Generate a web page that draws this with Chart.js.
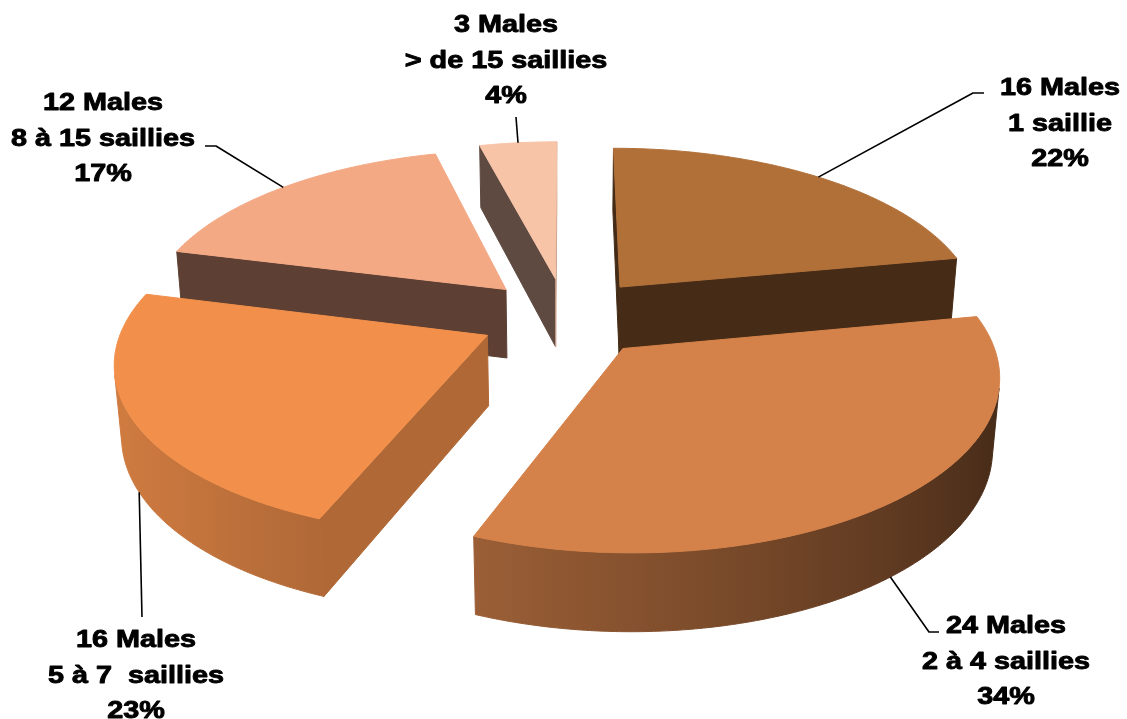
<!DOCTYPE html>
<html lang="fr">
<head>
<meta charset="UTF-8">
<title>Répartition des males selon le nombre de saillies</title>
<script src="https://cdn.jsdelivr.net/npm/chart.js"></script>
<style>
    body { margin: 0; background: #ffffff; }
    #cadre { width: 1127px; height: 719px; position: relative; }
</style>
</head>
<body>
<div id="cadre"><canvas id="graphique"></canvas></div>
<script>
// Données
const classes = ['1 saillie', '2 à 4 saillies', '5 à 7  saillies', '8 à 15 saillies', '> de 15 saillies'];
const males = [16, 24, 16, 12, 3];
const pourcentages = [22, 34, 23, 17, 4];
const couleurs = ['#b27039', '#d5824a', '#f2904b', '#f4a985', '#f7c4a8'];

// Position des étiquettes (centre du texte, première ligne de base) et trajet du trait de rappel
const placeEtiquettes = [
    { x: 1060, y: 95,  trait: [[973, 93], [984, 93]] },
    { x: 1006, y: 633, trait: [[929, 632], [939, 632]] },
    { x: 136,  y: 647, trait: [[142, 617]] },
    { x: 103,  y: 110, trait: [[216, 146], [205, 146]] },
    { x: 506,  y: 32,  trait: [[516, 117]] }
];

// Vue 3D : centre écran, échelle, inclinaison, perspective, épaisseur et éclatement (rayon = 1)
const vue = {
    cx: 566, cy: 317, echelle: 362,
    inclinaison: 27.3 * Math.PI / 180,
    perspective: 0.14,
    epaisseur: 0.22,
    eclatement: 0.24
};
const sinI = Math.sin(vue.inclinaison), cosI = Math.cos(vue.inclinaison);
const distance = cosI / vue.perspective;
const focale = vue.echelle * distance;

function projeter(P) {
    const yc = P.Y * cosI - P.Z * sinI;
    const dc = distance - P.Z * cosI - P.Y * sinI;
    return { x: vue.cx + focale * P.X / dc, y: vue.cy - focale * yc / dc };
}

// face tournée vers la caméra ?
function visible(nx, nz, P) {
    return nx * (0 - P.X) + nz * (distance * cosI - P.Z) > 0;
}

function versRgb(hex) {
    const v = parseInt(hex.slice(1), 16);
    return [(v >> 16) & 255, (v >> 8) & 255, v & 255];
}
function nuance(rgb, f) {
    return 'rgb(' + rgb.map(c => Math.round(Math.min(255, c * f))).join(',') + ')';
}

function chemin(ctx, points) {
    ctx.beginPath();
    points.forEach((p, k) => k ? ctx.lineTo(p.x, p.y) : ctx.moveTo(p.x, p.y));
    ctx.closePath();
}

function dessinerPart(ctx, p, couleur) {
    const h = vue.epaisseur;
    const rgb = versRgb(couleur);
    const pt = (a, r, Y) => ({ X: p.ox + r * Math.cos(a), Y: Y, Z: p.oz + r * Math.sin(a) });
    const n = Math.max(8, Math.ceil((p.a1 - p.a0) / 0.01));
    const angles = [];
    for (let k = 0; k <= n; k++) angles.push(p.a0 + (p.a1 - p.a0) * k / n);

    ctx.lineJoin = 'round';
    ctx.lineWidth = 1;

    // faces de coupe
    [
        { a: p.a0, nx: Math.sin(p.a0), nz: -Math.cos(p.a0) },
        { a: p.a1, nx: -Math.sin(p.a1), nz: Math.cos(p.a1) }
    ].forEach(f => {
        if (!visible(f.nx, f.nz, pt(f.a, 0.5, -h / 2))) return;
        const coul = nuance(rgb, 0.38 + 0.4 * Math.pow(Math.max(0, f.nx), 2));
        chemin(ctx, [pt(f.a, 0, 0), pt(f.a, 1, 0), pt(f.a, 1, -h), pt(f.a, 0, -h)].map(projeter));
        ctx.fillStyle = coul;
        ctx.strokeStyle = coul;
        ctx.fill();
        ctx.stroke();
    });

    // paroi extérieure (partie visible seulement)
    const vus = angles.filter(a => visible(Math.cos(a), Math.sin(a), pt(a, 1, -h / 2)));
    if (vus.length > 1) {
        const haut = vus.map(a => projeter(pt(a, 1, 0)));
        const bas = vus.map(a => projeter(pt(a, 1, -h)));
        const xs = haut.map(q => q.x);
        const x0 = Math.min(...xs), x1 = Math.max(...xs);
        const grad = ctx.createLinearGradient(x0, 0, x1, 0);
        const arrets = vus.map((a, k) => ({
            t: x1 > x0 ? (haut[k].x - x0) / (x1 - x0) : 0,
            f: 0.3 + 0.56 * (1 + Math.cos(a - 170 * Math.PI / 180)) / 2
        })).sort((u, v) => u.t - v.t);
        arrets.forEach((s, k) => { if (k % 6 === 0 || k === arrets.length - 1) grad.addColorStop(s.t, nuance(rgb, s.f)); });
        chemin(ctx, haut.concat(bas.reverse()));
        ctx.fillStyle = grad;
        ctx.strokeStyle = grad;
        ctx.fill();
        ctx.stroke();
    }

    // dessus
    chemin(ctx, [pt(p.a0, 0, 0)].concat(angles.map(a => pt(a, 1, 0))).map(projeter));
    ctx.fillStyle = couleur;
    ctx.strokeStyle = couleur;
    ctx.fill();
    ctx.stroke();
}

function dessinerEtiquette(ctx, p) {
    const place = placeEtiquettes[p.i];
    const h = vue.epaisseur;
    const devant = Math.sin(p.m) > 0;
    const ancre = projeter({ X: p.ox + Math.cos(p.m), Y: devant ? -h : 0, Z: p.oz + Math.sin(p.m) });

    ctx.beginPath();
    ctx.moveTo(ancre.x, ancre.y);
    place.trait.forEach(q => ctx.lineTo(q[0], q[1]));
    ctx.strokeStyle = '#000000';
    ctx.lineWidth = 1.6;
    ctx.stroke();

    const lignes = [males[p.i] + ' Males', classes[p.i], pourcentages[p.i] + '%'];
    ctx.font = 'bold 24px "Liberation Sans", Arial, sans-serif';
    ctx.fillStyle = '#000000';
    ctx.strokeStyle = '#000000';
    ctx.lineWidth = 0.9;
    ctx.textAlign = 'center';
    ctx.textBaseline = 'alphabetic';
    lignes.forEach((texte, k) => {
        ctx.save();
        ctx.translate(place.x, place.y + k * 35.5);
        ctx.scale(1.2, 1);
        ctx.fillText(texte, 0, 0);
        ctx.strokeText(texte, 0, 0);
        ctx.restore();
    });
}

// Camembert 3D éclaté construit à partir des arcs calculés par Chart.js
const camembert3d = {
    id: 'camembert3d',
    beforeDatasetsDraw(chart) {
        const ctx = chart.ctx;
        const arcs = chart.getDatasetMeta(0).data;
        const parts = arcs.map((arc, i) => {
            const m = (arc.startAngle + arc.endAngle) / 2;
            return {
                i: i, a0: arc.startAngle, a1: arc.endAngle, m: m,
                ox: vue.eclatement * Math.cos(m), oz: vue.eclatement * Math.sin(m)
            };
        });
        ctx.save();
        parts.slice().sort((u, v) => u.oz - v.oz)
            .forEach(p => dessinerPart(ctx, p, arcs[p.i].options.backgroundColor));
        parts.forEach(p => dessinerEtiquette(ctx, p));
        ctx.restore();
        return false;
    }
};

new Chart(document.getElementById('graphique'), {
    type: 'pie',
    data: {
        labels: classes,
        datasets: [{
            data: pourcentages,
            backgroundColor: couleurs,
            borderWidth: 0
        }]
    },
    options: {
        responsive: true,
        maintainAspectRatio: false,
        animation: false,
        events: [],
        plugins: {
            legend: { display: false },
            tooltip: { enabled: false }
        }
    },
    plugins: [camembert3d]
});
</script>
</body>
</html>
